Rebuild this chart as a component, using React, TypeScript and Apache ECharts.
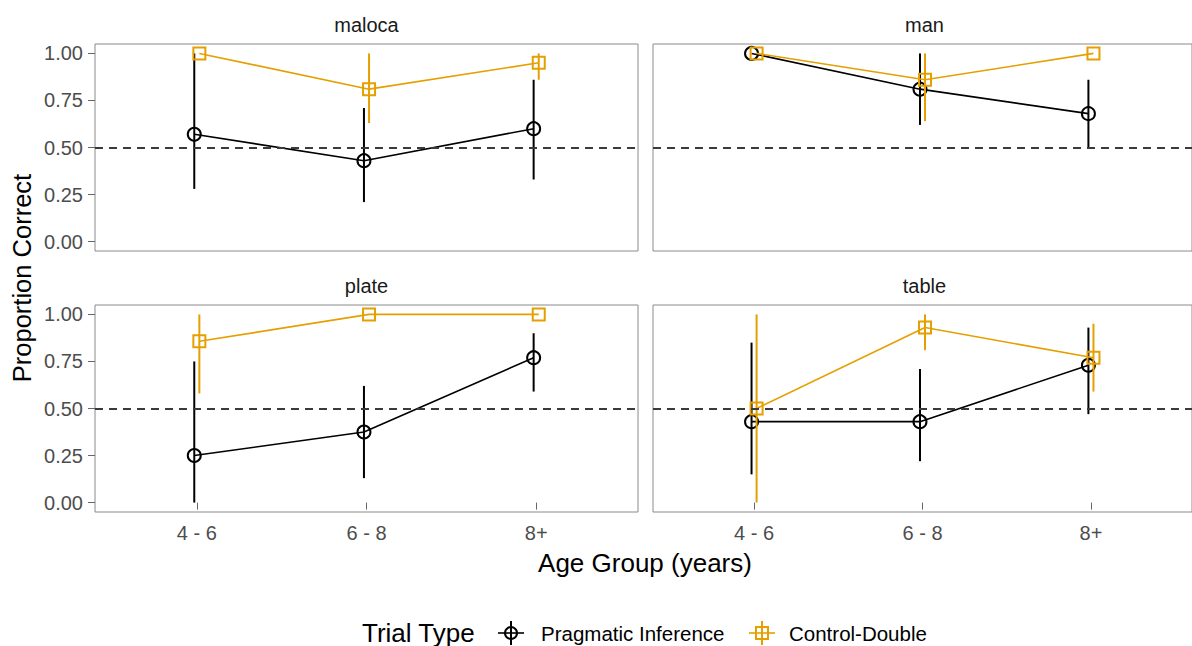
import React, { useEffect, useRef } from 'react';
import * as echarts from 'echarts';

const FONT = '"Liberation Sans", Arial, Helvetica, sans-serif';

// ---- data ----
const categories = ['4 - 6', '6 - 8', '8+'];
const panels = ['maloca', 'man', 'plate', 'table'];
const yTicks = [0, 0.25, 0.5, 0.75, 1];
const chanceLevel = 0.5;

// Pragmatic Inference (per panel: 4-6, 6-8, 8+)
const pragmaticMean = [
  [0.57, 0.43, 0.6],
  [1.0, 0.81, 0.68],
  [0.25, 0.375, 0.77],
  [0.43, 0.43, 0.73],
];
const pragmaticLow = [
  [0.28, 0.21, 0.33],
  [1.0, 0.62, 0.5],
  [0.0, 0.13, 0.59],
  [0.15, 0.22, 0.47],
];
const pragmaticHigh = [
  [1.0, 0.71, 0.86],
  [1.0, 1.0, 0.86],
  [0.75, 0.62, 0.9],
  [0.85, 0.71, 0.93],
];

// Control-Double
const controlMean = [
  [1.0, 0.81, 0.95],
  [1.0, 0.86, 1.0],
  [0.857, 1.0, 1.0],
  [0.5, 0.93, 0.77],
];
const controlLow = [
  [1.0, 0.63, 0.86],
  [1.0, 0.64, 1.0],
  [0.58, 1.0, 1.0],
  [0.0, 0.81, 0.59],
];
const controlHigh = [
  [1.0, 1.0, 1.0],
  [1.0, 1.0, 1.0],
  [1.0, 1.0, 1.0],
  [1.0, 1.0, 0.95],
];

const seriesNames = ['Pragmatic Inference', 'Control-Double'];
const seriesColors = ['#000000', '#E69F00'];

// ---- layout ----
const PANEL_W = 543;
const PANEL_H = 207;
const panelPos = [
  { left: 95, top: 44 },
  { left: 653, top: 44 },
  { left: 95, top: 305 },
  { left: 653, top: 305 },
];
const DODGE = 0.015;

function errRender(color: string) {
  return (params: any, api: any) => {
    const x = api.value(0);
    const a = api.coord([x, api.value(1)]);
    const b = api.coord([x, api.value(2)]);
    return {
      type: 'line',
      shape: { x1: a[0], y1: a[1], x2: b[0], y2: b[1] },
      style: { stroke: color, lineWidth: 2 },
    };
  };
}

function buildOption() {
  const grid = panels.map((_, i) => ({
    left: panelPos[i].left,
    top: panelPos[i].top,
    width: PANEL_W,
    height: PANEL_H,
    show: true,
    borderColor: '#8a8a8a',
    borderWidth: 1,
    backgroundColor: 'transparent',
  }));
  const xAxis = panels.map((_, i) => ({
    type: 'value',
    gridIndex: i,
    min: 0.4,
    max: 3.6,
    splitLine: { show: false },
    axisLine: { show: false },
    axisTick: {
      show: i >= 2,
      customValues: [1, 2, 3],
      length: 7,
      lineStyle: { color: '#666', width: 1 },
    },
    axisLabel: {
      show: i >= 2,
      customValues: [1, 2, 3],
      formatter: (v: number) => categories[Math.round(v) - 1] ?? '',
      fontSize: 20,
      color: '#4d4d4d',
      fontFamily: FONT,
      margin: 11,
    },
  }));
  const yAxis = panels.map((_, i) => ({
    type: 'value',
    gridIndex: i,
    min: -0.05,
    max: 1.05,
    splitLine: { show: false },
    axisLine: { show: false },
    axisTick: {
      show: i % 2 === 0,
      customValues: yTicks,
      length: 7,
      lineStyle: { color: '#666', width: 1 },
    },
    axisLabel: {
      show: i % 2 === 0,
      customValues: yTicks,
      formatter: (v: number) => v.toFixed(2),
      fontSize: 20,
      color: '#4d4d4d',
      fontFamily: FONT,
      margin: 12,
    },
  }));

  const series: any[] = [];
  panels.forEach((_, i) => {
    const groups = [
      { mean: pragmaticMean[i], lo: pragmaticLow[i], hi: pragmaticHigh[i], off: -DODGE, sym: 'circle' },
      { mean: controlMean[i], lo: controlLow[i], hi: controlHigh[i], off: DODGE, sym: 'rect' },
    ];
    groups.forEach((g, k) => {
      const color = seriesColors[k];
      series.push({
        type: 'custom',
        name: seriesNames[k],
        xAxisIndex: i,
        yAxisIndex: i,
        renderItem: errRender(color),
        encode: { x: 0, y: [1, 2] },
        data: categories.map((_, j) => [j + 1 + g.off, g.lo[j], g.hi[j]]),
        silent: true,
        z: 3 + k,
      });
      series.push({
        type: 'line',
        name: seriesNames[k],
        xAxisIndex: i,
        yAxisIndex: i,
        data: categories.map((_, j) => [j + 1 + g.off, g.mean[j]]),
        symbol: g.sym,
        symbolSize: g.sym === 'rect' ? 12 : 13,
        showSymbol: true,
        itemStyle: { color: 'rgba(0,0,0,0)', borderColor: color, borderWidth: 2 },
        lineStyle: { color, width: 1.6 },
        silent: true,
        z: 3 + k,
        markLine:
          k === 0
            ? {
                silent: true,
                symbol: ['none', 'none'],
                label: { show: false },
                lineStyle: { color: '#3a3a3a', type: [8, 6], width: 1.8 },
                data: [{ yAxis: chanceLevel }],
              }
            : undefined,
      });
    });
  });

  const textStyle = (size: number, fill: string, align = 'center') => ({
    fontSize: size,
    fontFamily: FONT,
    fill,
    align,
    verticalAlign: 'middle',
  });

  const graphic: any[] = [];
  panels.forEach((name, i) => {
    graphic.push({
      type: 'text',
      x: panelPos[i].left + PANEL_W / 2,
      y: panelPos[i].top - 19,
      style: { text: name, ...textStyle(20, '#1a1a1a') },
    });
  });
  graphic.push({
    type: 'text',
    x: 645,
    y: 563,
    style: { text: 'Age Group (years)', ...textStyle(26, '#000') },
  });
  graphic.push({
    type: 'text',
    x: 22,
    y: 278,
    rotation: Math.PI / 2,
    style: { text: 'Proportion Correct', ...textStyle(25.5, '#000') },
  });
  // legend
  const ly = 633;
  graphic.push({
    type: 'text',
    x: 362,
    y: ly,
    style: { text: 'Trial Type', ...textStyle(26, '#000', 'left') },
  });
  const iconX = [511, 762];
  const labelX = [541, 789];
  seriesNames.forEach((nm, k) => {
    const c = seriesColors[k];
    const cx = iconX[k];
    graphic.push({
      type: 'line',
      shape: { x1: cx - 13, y1: ly, x2: cx + 13, y2: ly },
      style: { stroke: c, lineWidth: 1.6 },
    });
    graphic.push({
      type: 'line',
      shape: { x1: cx, y1: ly - 12, x2: cx, y2: ly + 12 },
      style: { stroke: c, lineWidth: 2 },
    });
    if (k === 0) {
      graphic.push({
        type: 'circle',
        shape: { cx, cy: ly, r: 6 },
        style: { fill: 'none', stroke: c, lineWidth: 2 },
      });
    } else {
      graphic.push({
        type: 'rect',
        shape: { x: cx - 6, y: ly - 6, width: 12, height: 12 },
        style: { fill: 'none', stroke: c, lineWidth: 2 },
      });
    }
    graphic.push({
      type: 'text',
      x: labelX[k],
      y: ly,
      style: { text: nm, ...textStyle(20.5, '#000', 'left') },
    });
  });

  return {
    animation: false,
    backgroundColor: '#ffffff',
    textStyle: { fontFamily: FONT },
    grid,
    xAxis,
    yAxis,
    series,
    graphic,
  };
}

export default function App() {
  const ref = useRef<HTMLDivElement>(null);
  useEffect(() => {
    if (!ref.current) return;
    const chart = echarts.init(ref.current, undefined, { renderer: 'svg' });
    chart.setOption(buildOption() as any);
    return () => chart.dispose();
  }, []);
  return (
    <div
      ref={ref}
      style={{ position: 'fixed', left: 0, top: 0, width: 1192, height: 646, background: '#fff' }}
    />
  );
}
